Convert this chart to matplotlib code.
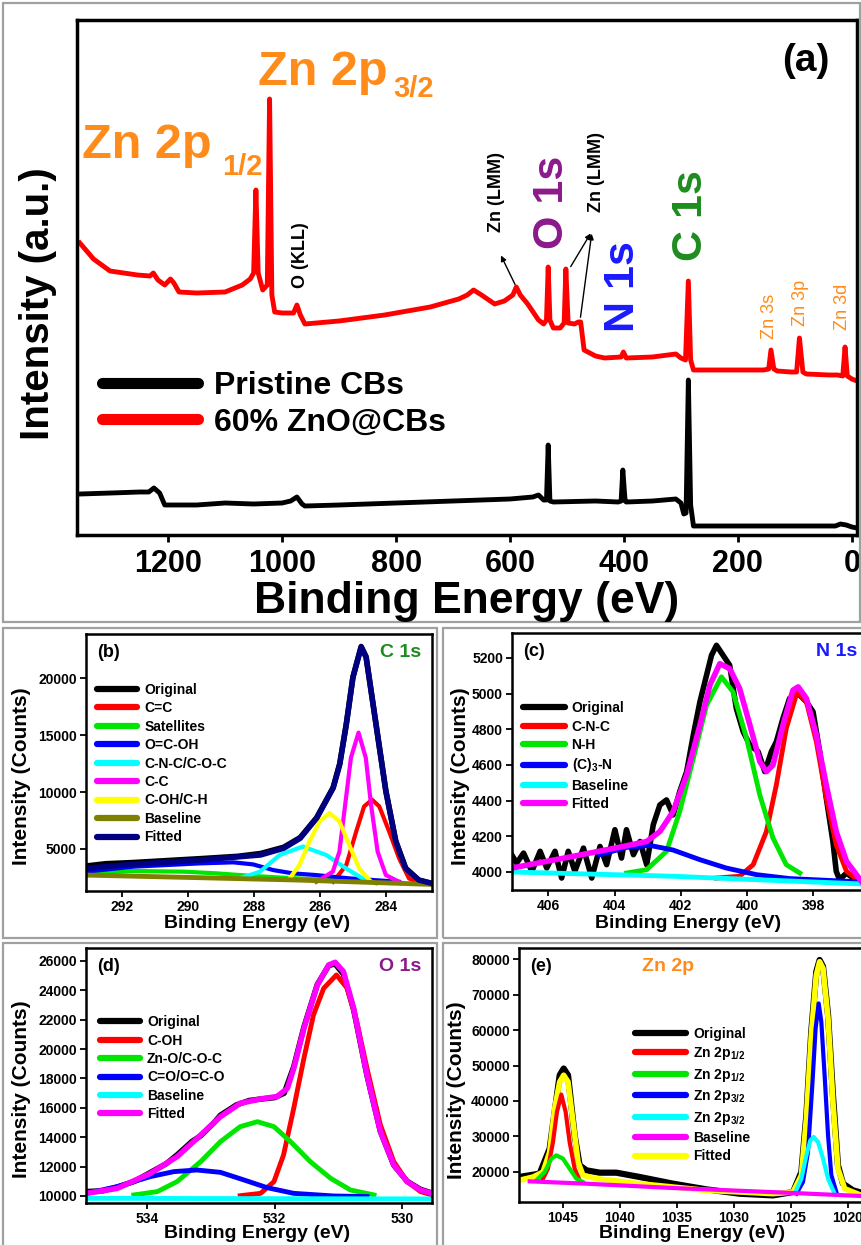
import matplotlib.pyplot as plt
from matplotlib.patches import Rectangle
from matplotlib.lines import Line2D

plt.rcParams['font.family'] = ['Liberation Sans', 'DejaVu Sans']
plt.rcParams['font.weight'] = 'bold'
plt.rcParams['axes.labelweight'] = 'bold'
plt.rcParams['mathtext.fontset'] = 'custom'
plt.rcParams['mathtext.rm'] = 'Liberation Sans:bold'
plt.rcParams['mathtext.default'] = 'rm'

W, H = 862, 1245

# === (a) survey spectra ===
zno_ev = [1355, 1331, 1302, 1254, 1232, 1226, 1218, 1206, 1196, 1190, 1181, 1150, 1100, 1070,
          1056, 1050, 1046, 1042, 1034, 1026, 1022, 1018, 1013, 1000, 980, 974, 968, 960, 900,
          820, 740, 690, 675, 664, 650, 627, 610, 595, 589, 582, 569, 550, 541, 536, 533, 530,
          524, 512, 505, 502, 498, 487, 480, 476, 470, 450, 434, 405, 401, 396, 350, 309, 300,
          292, 287, 283, 278, 200, 155, 146, 142, 137, 131, 107, 97, 92, 86, 80, 40, 25, 16,
          12, 8, 0, -9]
zno_int = [292, 276, 264, 260, 259, 262, 255, 250, 256, 252, 243, 242, 243, 250,
           256, 262, 345, 262, 245, 250, 436, 240, 223, 222, 222, 230, 220, 211, 214,
           220, 228, 236, 240, 245, 240, 231, 234, 240, 248, 240, 231, 215, 211, 215, 268, 215,
           207, 207, 212, 266, 212, 211, 213, 213, 185, 179, 177, 178, 183, 177, 178, 181, 177,
           175, 254, 175, 165, 165, 165, 166, 185, 166, 164, 163, 163, 197, 163, 161, 160, 160, 159,
           188, 159, 156, 154]

cb_ev = [1355, 1300, 1250, 1234, 1225, 1215, 1206, 1150, 1100, 1050, 1000, 985, 974, 965, 960,
         900, 800, 700, 600, 560, 550, 541, 536, 533, 530, 524, 450, 410, 405, 402, 398, 396,
         350, 309, 300, 295, 291, 287, 283, 278, 200, 100, 29, 20, 10, 0, -9]
cb_int = [41, 42, 43, 43, 47, 42, 30, 30, 32, 31, 32, 34, 38, 31, 29,
          30, 32, 34, 36, 38, 40, 35, 35, 90, 34, 33, 34, 33, 34, 65, 34, 33,
          34, 36, 32, 21, 22, 155, 30, 9, 9, 9, 9, 11, 10, 8, 7]

# === (b) C 1s ===
c1s_orig_x = [293.1, 292.5, 291.7, 290.5, 289.6, 288.5, 287.8, 287.1, 286.6, 286.1, 285.6, 285.4,
              285.2, 285.0, 284.75, 284.6, 284.3, 284.0, 283.7, 283.4, 283.0, 282.6]
c1s_orig_y = [3500, 3700, 3800, 4000, 4150, 4350, 4600, 5150, 6000, 7750, 10400, 12500,
              16000, 20100, 22800, 21900, 16000, 10100, 5700, 3300, 2250, 1950]
c1s_cc_double_x = [285.6, 285.2, 284.9, 284.66, 284.42, 284.2, 283.9, 283.6, 283.3, 283.0]
c1s_cc_double_y = [2110, 3590, 6530, 8740, 9330, 8740, 6530, 4180, 2410, 1970]
c1s_sat_x = [293.1, 291.65, 290.14, 289.13, 288.13, 287.12, 285.61, 283.6]
c1s_sat_y = [2850, 3060, 3000, 2850, 2640, 2470, 2260, 2050]
c1s_cooh_x = [293.1, 291.65, 289.64, 288.63, 288.03, 287.42, 286.82, 286.11, 285.11, 283.6]
c1s_cooh_y = [3000, 3440, 3730, 3820, 3640, 3140, 2850, 2700, 2410, 2110]
c1s_cnc_x = [288.43, 287.82, 287.22, 286.52, 285.81, 285.21, 284.71, 284.3]
c1s_cnc_y = [2410, 3000, 4470, 5210, 4470, 3290, 2410, 1970]
c1s_cc_x = [286.11, 285.61, 285.41, 285.21, 285.06, 284.83, 284.61, 284.45, 284.25, 284.0, 283.6]
c1s_cc_y = [2110, 3000, 4760, 9480, 13020, 15230, 13020, 8890, 4760, 2700, 2110]
c1s_coh_x = [286.92, 286.62, 286.32, 286.01, 285.71, 285.41, 285.11, 284.81, 284.5]
c1s_coh_y = [2410, 3590, 5650, 7420, 8150, 7420, 5350, 3290, 2260]
c1s_base_x = [293.1, 289.64, 286.62, 282.6]
c1s_base_y = [2700, 2470, 2260, 1880]
c1s_fit_x = [293.1, 291.7, 289.6, 287.8, 287.1, 286.6, 286.1, 285.6, 285.4, 285.2, 285.0, 284.75,
             284.6, 284.3, 284.0, 283.7, 283.4, 283.0, 282.6]
c1s_fit_y = [3290, 3640, 4030, 4470, 5060, 5940, 7710, 10360, 12430, 15960, 20090, 22740,
             21860, 15960, 10070, 5650, 3290, 2260, 1970]

# === (c) N 1s ===
n1s_orig_x = [407.11, 406.96, 406.75, 406.5, 406.25, 406.05, 405.8, 405.6, 405.4, 405.2, 404.94,
              404.69, 404.44, 404.24, 403.99, 403.79, 403.64, 403.43, 403.23, 403.03, 402.83,
              402.63, 402.43, 402.23, 402.03, 401.82, 401.62, 401.42, 401.22, 401.07, 400.92,
              400.72, 400.52, 400.32, 400.11, 399.91, 399.66, 399.46, 399.26, 399.11, 398.91,
              398.71, 398.45, 398.2, 398.0, 397.8, 397.6, 397.4, 397.3, 397.2, 396.99, 396.79, 396.54]
n1s_orig_y = [4097, 4050, 4106, 4004, 4116, 4022, 4116, 3966, 4116, 4004, 4134,
              3966, 4143, 4041, 4237, 4078, 4237, 4097, 4171, 4041, 4265,
              4376, 4404, 4320, 4451, 4563, 4768, 4954, 5103, 5215, 5271,
              5215, 5159, 4917, 4786, 4712, 4675, 4563, 4675, 4730, 4861,
              4973, 5001, 4954, 4898, 4675, 4414, 4171, 4004, 3957, 3994, 3966, 3957]
n1s_cnc_x = [400.92, 400.22, 399.81, 399.41, 399.11, 398.81, 398.48, 398.2, 397.9, 397.6, 397.3,
             396.99, 396.59]
n1s_cnc_y = [3966, 3976, 4041, 4227, 4488, 4805, 5010, 4954, 4730, 4414, 4153, 4004, 3948]
n1s_nh_x = [403.64, 403.03, 402.43, 402.03, 401.62, 401.22, 400.77, 400.42, 400.01, 399.61,
            399.21, 398.81, 398.4]
n1s_nh_y = [3994, 4013, 4116, 4339, 4637, 4935, 5094, 5010, 4749, 4432, 4190, 4041, 3994]
n1s_c3n_x = [404.44, 403.64, 402.93, 402.23, 401.42, 400.62, 399.71, 398.71, 396.54]
n1s_c3n_y = [4097, 4138, 4149, 4123, 4069, 4022, 3985, 3963, 3944]
n1s_base_x = [407.11, 402.23, 396.54]
n1s_base_y = [4000, 3976, 3933]
n1s_fit_x = [407.11, 405.25, 403.74, 403.03, 402.63, 402.23, 401.82, 401.42, 401.12, 400.82,
             400.52, 400.22, 399.91, 399.61, 399.41, 399.21, 398.91, 398.61, 398.45, 398.2,
             397.9, 397.6, 397.3, 396.99, 396.54]
n1s_fit_y = [4022, 4088, 4143, 4171, 4227, 4339, 4544, 4824, 5047, 5168,
             5140, 5029, 4824, 4619, 4563, 4600, 4824, 5019, 5038, 4973,
             4768, 4488, 4227, 4060, 3948]

# === (d) O 1s ===
o1s_orig_x = [534.95, 534.7, 534.47, 534.2, 533.95, 533.7, 533.53, 533.3, 533.16, 532.95, 532.85,
              532.6, 532.4, 532.22, 532.0, 531.85, 531.7, 531.54, 531.33, 531.15, 531.05, 530.92,
              530.76, 530.55, 530.34, 530.13, 529.92, 529.71, 529.53]
o1s_orig_y = [10300, 10350, 10600, 11000, 11600, 12200, 12800, 13700, 14100, 15000, 15500,
              16200, 16500, 16600, 16700, 17000, 18800, 21500, 24400, 25700, 25800, 25100,
              22700, 18200, 14400, 12100, 11000, 10450, 10200]
o1s_coh_x = [532.54, 532.22, 532.01, 531.86, 531.7, 531.54, 531.39, 531.23, 531.03, 530.86,
             530.71, 530.55, 530.34, 530.13, 529.92, 529.71, 529.53]
o1s_coh_y = [10020, 10180, 10980, 12790, 15970, 19380, 22330, 24140, 25050, 24140,
             21870, 18690, 14840, 12340, 10980, 10300, 10070]
o1s_zno_x = [534.21, 533.84, 533.53, 533.16, 532.85, 532.54, 532.27, 532.01, 531.75, 531.44,
             531.12, 530.81, 530.44]
o1s_zno_y = [10070, 10300, 10980, 12340, 13700, 14720, 15060, 14720, 13700, 12340,
             11200, 10410, 10070]
o1s_co_x = [534.95, 534.47, 533.95, 533.58, 533.22, 532.85, 532.48, 532.12, 531.7, 531.07, 530.55]
o1s_co_y = [10180, 10640, 11320, 11660, 11770, 11610, 11090, 10570, 10180, 10000, 9960]
o1s_base_x = [534.95, 529.53]
o1s_base_y = [9840, 9800]
o1s_fit_x = [534.95, 534.47, 533.95, 533.53, 533.16, 532.85, 532.54, 532.22, 531.96, 531.8,
             531.7, 531.54, 531.33, 531.15, 531.05, 530.92, 530.76, 530.55, 530.34, 530.13,
             529.92, 529.71, 529.53]
o1s_fit_y = [10180, 10520, 11540, 12680, 14150, 15400, 16310, 16610, 16770, 17330,
             18690, 21420, 24370, 25730, 25910, 25280, 22780, 18240, 14380, 12110,
             10980, 10410, 10180]

# === (e) Zn 2p ===
zn_orig_x = [1048.86, 1047.05, 1046.17, 1045.29, 1044.94, 1044.56, 1043.98, 1043.54, 1042.95,
             1041.78, 1040.32, 1038.27, 1035.35, 1032.43, 1029.5, 1026.58, 1024.82, 1024.09,
             1023.65, 1023.22, 1022.78, 1022.49, 1022.19, 1021.75, 1021.32, 1020.88, 1020.44,
             1019.56, 1018.83]
zn_orig_y = [18590, 19530, 26580, 47270, 49150, 47270, 30340, 21880, 20470,
             19810, 19810, 18590, 16710, 15110, 13890, 13420, 14360, 20000,
             35990, 59500, 76420, 79720, 77840, 64200, 41630, 21880, 16710,
             14830, 14170]
zn_p12a_x = [1046.75, 1046.32, 1045.88, 1045.53, 1045.15, 1044.77, 1044.42, 1043.98, 1043.54]
zn_p12a_y = [18120, 20940, 28460, 36930, 41820, 36930, 28460, 20940, 17650]
zn_p12b_x = [1047.34, 1046.61, 1046.02, 1045.58, 1045.0, 1044.42, 1043.83, 1043.25]
zn_p12b_y = [17650, 20000, 23760, 24700, 23760, 20940, 18120, 17180]
zn_p32a_x = [1024.53, 1023.95, 1023.51, 1023.13, 1022.84, 1022.57, 1022.34, 1022.05, 1021.75,
             1021.46, 1021.02]
zn_p32a_y = [13890, 17180, 25640, 44450, 60440, 67490, 62320, 47270, 30340, 19060, 14360]
zn_p32b_x = [1024.68, 1024.09, 1023.65, 1023.3, 1023.01, 1022.63, 1022.19, 1021.75, 1021.17]
zn_p32b_y = [13890, 18120, 24700, 28930, 29870, 28460, 23760, 18120, 13890]
zn_base_x = [1047.92, 1042.95, 1035.35, 1025.41, 1018.83]
zn_base_y = [17370, 16710, 15490, 14170, 13230]
zn_fit_x = [1048.86, 1047.63, 1046.75, 1046.17, 1045.73, 1045.29, 1044.94, 1044.56, 1044.12,
            1043.68, 1043.25, 1042.08, 1038.27, 1032.43, 1026.58, 1024.82, 1024.09, 1023.65,
            1023.22, 1022.78, 1022.49, 1022.19, 1021.75, 1021.32, 1020.88, 1020.29, 1018.83]
zn_fit_y = [17650, 18590, 20000, 25640, 37870, 45390, 47270, 45390, 34110,
            22820, 19060, 18120, 16710, 14830, 13890, 14360, 19060, 35050,
            58560, 75480, 79250, 77360, 63260, 39750, 20940, 15300, 13420]


fig = plt.figure(figsize=(W / 100, H / 100), dpi=100)


def box(l, t, r, b):
    return [l / W, 1 - b / H, (r - l) / W, (b - t) / H]


def ftext(x, y, s, **kw):
    fig.text(x / W, 1 - y / H, s, **kw)


def frame(l, t, r, b):
    fig.add_artist(Rectangle((l / W, 1 - b / H), (r - l) / W, (b - t) / H,
                             transform=fig.transFigure, fill=False,
                             ec='#a0a0a0', lw=1.6))


frame(3, 3, 860, 622)
frame(3, 628, 437, 938)
frame(443, 628, 868, 938)
frame(3, 943, 437, 1250)
frame(443, 943, 868, 1250)

# ---------- (a) ----------
ax = fig.add_axes(box(77, 20, 857, 535))
ax.plot(cb_ev, cb_int, color='black', lw=3.5)
ax.plot(zno_ev, zno_int, color='red', lw=3.5)
ax.set_xlim(1360, -9)
ax.set_ylim(0, 515)
ax.set_yticks([])
ax.set_xticks(range(1200, -1, -200))
ax.tick_params(axis='x', direction='out', length=5, width=2, labelsize=22, pad=5)
for s in ax.spines.values():
    s.set_linewidth(2.5)

hs = [Line2D([], [], color='black', lw=8, solid_capstyle='round'),
      Line2D([], [], color='red', lw=8, solid_capstyle='round')]
ax.legend(hs, ['Pristine CBs', '60% ZnO@CBs'], loc='upper left',
          bbox_to_anchor=(0.032, 0.318), frameon=False, fontsize=23,
          handlelength=3.0, handletextpad=0.5, labelspacing=0.2,
          borderpad=0, borderaxespad=0)

orange = '#ff8c1a'
ax.text(1042, 450, 'Zn 2p', color=orange, fontsize=35, ha='left', va='baseline')
ax.text(805, 438, '3/2', color=orange, fontsize=21, ha='left', va='baseline')
ax.text(1351, 377, 'Zn 2p', color=orange, fontsize=35, ha='left', va='baseline')
ax.text(1105, 360, '1/2', color=orange, fontsize=21, ha='left', va='baseline')
ax.text(968, 280, 'O (KLL)', rotation=90, fontsize=13, ha='center', va='center')
ax.text(623, 343, 'Zn (LMM)', rotation=90, fontsize=13, ha='center', va='center')
ax.text(449, 363, 'Zn (LMM)', rotation=90, fontsize=13, ha='center', va='center')
ax.text(526, 333, 'O 1s', rotation=90, fontsize=31, color='#8b1a8b', ha='center', va='center')
ax.text(402, 248, 'N 1s', rotation=90, fontsize=31, color='#1a1aff', ha='center', va='center')
ax.text(282, 319, 'C 1s', rotation=90, fontsize=31, color='#1e8c1e', ha='center', va='center')
ax.text(144, 219, 'Zn 3s', rotation=90, fontsize=13, color=orange, fontweight='normal',
        ha='center', va='center')
ax.text(91, 232, 'Zn 3p', rotation=90, fontsize=13, color=orange, fontweight='normal',
        ha='center', va='center')
ax.text(16, 228, 'Zn 3d', rotation=90, fontsize=13, color=orange, fontweight='normal',
        ha='center', va='center')
ax.text(81, 474, '(a)', fontsize=28, ha='center', va='center')
arrow = dict(arrowstyle='-|>', color='black', lw=1, mutation_scale=8)
ax.annotate('', xy=(618, 282), xytext=(589, 248), arrowprops=arrow)
ax.annotate('', xy=(456, 304), xytext=(496, 266), arrowprops=arrow)
ax.annotate('', xy=(456, 304), xytext=(477, 215), arrowprops=arrow)
ftext(38, 304, 'Intensity (a.u.)', rotation=90, fontsize=29, ha='center', va='center')
ftext(467, 601, 'Binding Energy (eV)', fontsize=32, ha='center', va='center')


# ---------- bottom panels ----------
def panel(px, xlim, ylim, xticks, yticks):
    a = fig.add_axes(box(*px))
    a.set_xlim(*xlim)
    a.set_ylim(*ylim)
    a.set_xticks(xticks)
    a.set_yticks(yticks)
    a.set_yticklabels([str(v) for v in yticks])
    a.tick_params(direction='out', length=4, width=1.3, labelsize=10, pad=2.5)
    for s in a.spines.values():
        s.set_linewidth(1.8)
    return a


def legend(a, colors, labels, anchor, hl, lw=4.5):
    hs = [Line2D([], [], color=c, lw=lw, solid_capstyle='round') for c in colors]
    a.legend(hs, labels, loc='upper left', bbox_to_anchor=anchor, frameon=False,
             fontsize=10, handlelength=hl, handletextpad=0.5, labelspacing=0.32,
             borderpad=0, borderaxespad=0)


# (b) C 1s
ax = panel((86, 634, 432, 891), (293.1, 282.6), (1300, 23900),
           [292, 290, 288, 286, 284], [5000, 10000, 15000, 20000])
ax.plot(c1s_orig_x, c1s_orig_y, color='black', lw=4)
ax.plot(c1s_cc_double_x, c1s_cc_double_y, color='red', lw=3)
ax.plot(c1s_sat_x, c1s_sat_y, color='#00e600', lw=3)
ax.plot(c1s_cooh_x, c1s_cooh_y, color='#0000ff', lw=3)
ax.plot(c1s_cnc_x, c1s_cnc_y, color='cyan', lw=3)
ax.plot(c1s_cc_x, c1s_cc_y, color='magenta', lw=3)
ax.plot(c1s_coh_x, c1s_coh_y, color='yellow', lw=3)
ax.plot(c1s_base_x, c1s_base_y, color='#808000', lw=3.5)
ax.plot(c1s_fit_x, c1s_fit_y, color='#000080', lw=4)
legend(ax, ['black', 'red', '#00e600', '#0000ff', 'cyan', 'magenta', 'yellow', '#808000', '#000080'],
       ['Original', 'C=C', 'Satellites', 'O=C-OH', 'C-N-C/C-O-C', 'C-C', 'C-OH/C-H',
        'Baseline', 'Fitted'], (0.032, 0.81), 2.9)
ax.text(0.032, 0.96, '(b)', transform=ax.transAxes, fontsize=13, va='top')
ax.text(0.97, 0.96, 'C 1s', transform=ax.transAxes, fontsize=14, color='#1e8c1e',
        ha='right', va='top')
ftext(22, 776, 'Intensity (Counts)', rotation=90, fontsize=15, ha='center', va='center')
ftext(257, 924, 'Binding Energy (eV)', fontsize=14, ha='center', va='center')

# (c) N 1s
ax = panel((512, 633, 866, 890), (407.1, 396.4), (3899, 5340),
           [406, 404, 402, 400, 398], [4000, 4200, 4400, 4600, 4800, 5000, 5200])
ax.spines['right'].set_visible(False)
ax.plot(n1s_orig_x, n1s_orig_y, color='black', lw=4)
ax.plot(n1s_cnc_x, n1s_cnc_y, color='red', lw=3.5)
ax.plot(n1s_nh_x, n1s_nh_y, color='#00e600', lw=3.5)
ax.plot(n1s_c3n_x, n1s_c3n_y, color='#0000ff', lw=3.5)
ax.plot(n1s_base_x, n1s_base_y, color='cyan', lw=3.5)
ax.plot(n1s_fit_x, n1s_fit_y, color='magenta', lw=4)
legend(ax, ['black', 'red', '#00e600', '#0000ff', 'cyan', 'magenta'],
       ['Original', 'C-N-C', 'N-H', '(C)$_3$-N', 'Baseline', 'Fitted'], (0.031, 0.735), 3.0)
ax.text(0.032, 0.96, '(c)', transform=ax.transAxes, fontsize=13, va='top')
ax.text(0.975, 0.96, 'N 1s', transform=ax.transAxes, fontsize=14, color='#1a1aff',
        ha='right', va='top')
ftext(461, 776, 'Intensity (Counts)', rotation=90, fontsize=15, ha='center', va='center')
ftext(688, 923, 'Binding Energy (eV)', fontsize=14, ha='center', va='center')

# (d) O 1s
ax = panel((86, 948, 432, 1203), (534.96, 529.53), (9523, 26885),
           [534, 532, 530], list(range(10000, 26001, 2000)))
ax.plot(o1s_orig_x, o1s_orig_y, color='black', lw=4)
ax.plot(o1s_coh_x, o1s_coh_y, color='red', lw=3.5)
ax.plot(o1s_zno_x, o1s_zno_y, color='#00e600', lw=3.5)
ax.plot(o1s_co_x, o1s_co_y, color='#0000ff', lw=3.5)
ax.plot(o1s_base_x, o1s_base_y, color='cyan', lw=3.5)
ax.plot(o1s_fit_x, o1s_fit_y, color='magenta', lw=4)
legend(ax, ['black', 'red', '#00e600', '#0000ff', 'cyan', 'magenta'],
       ['Original', 'C-OH', 'Zn-O/C-O-C', 'C=O/O=C-O', 'Baseline', 'Fitted'], (0.04, 0.737), 2.9)
ax.text(0.032, 0.96, '(d)', transform=ax.transAxes, fontsize=13, va='top')
ax.text(0.97, 0.96, 'O 1s', transform=ax.transAxes, fontsize=14, color='#8b1a8b',
        ha='right', va='top')
ftext(22, 1089, 'Intensity (Counts)', rotation=90, fontsize=15, ha='center', va='center')
ftext(257, 1234, 'Binding Energy (eV)', fontsize=14, ha='center', va='center')

# (e) Zn 2p
ax = panel((519, 948, 866, 1202), (1048.86, 1018.42), (11549, 83099),
           [1045, 1040, 1035, 1030, 1025, 1020], list(range(20000, 80001, 10000)))
ax.spines['right'].set_visible(False)
ax.plot(zn_orig_x, zn_orig_y, color='black', lw=4.5)
ax.plot(zn_fit_x, zn_fit_y, color='yellow', lw=4)
ax.plot(zn_p12a_x, zn_p12a_y, color='red', lw=3)
ax.plot(zn_p12b_x, zn_p12b_y, color='#00e600', lw=3)
ax.plot(zn_p32a_x, zn_p32a_y, color='#0000ff', lw=3)
ax.plot(zn_p32b_x, zn_p32b_y, color='cyan', lw=3)
ax.plot(zn_base_x, zn_base_y, color='magenta', lw=3)
legend(ax, ['black', 'red', '#00e600', '#0000ff', 'cyan', 'magenta', 'yellow'],
       ['Original', 'Zn 2p$_{1/2}$', 'Zn 2p$_{1/2}$', 'Zn 2p$_{3/2}$', 'Zn 2p$_{3/2}$',
        'Baseline', 'Fitted'], (0.334, 0.69), 3.7)
ax.text(0.032, 0.96, '(e)', transform=ax.transAxes, fontsize=13, va='top')
ax.text(0.43, 0.96, 'Zn 2p', transform=ax.transAxes, fontsize=14, color=orange,
        ha='center', va='top')
ftext(457, 1090, 'Intensity (Counts)', rotation=90, fontsize=15, ha='center', va='center')
ftext(692, 1234, 'Binding Energy (eV)', fontsize=14, ha='center', va='center')

fig.savefig('out.png', dpi=100)
